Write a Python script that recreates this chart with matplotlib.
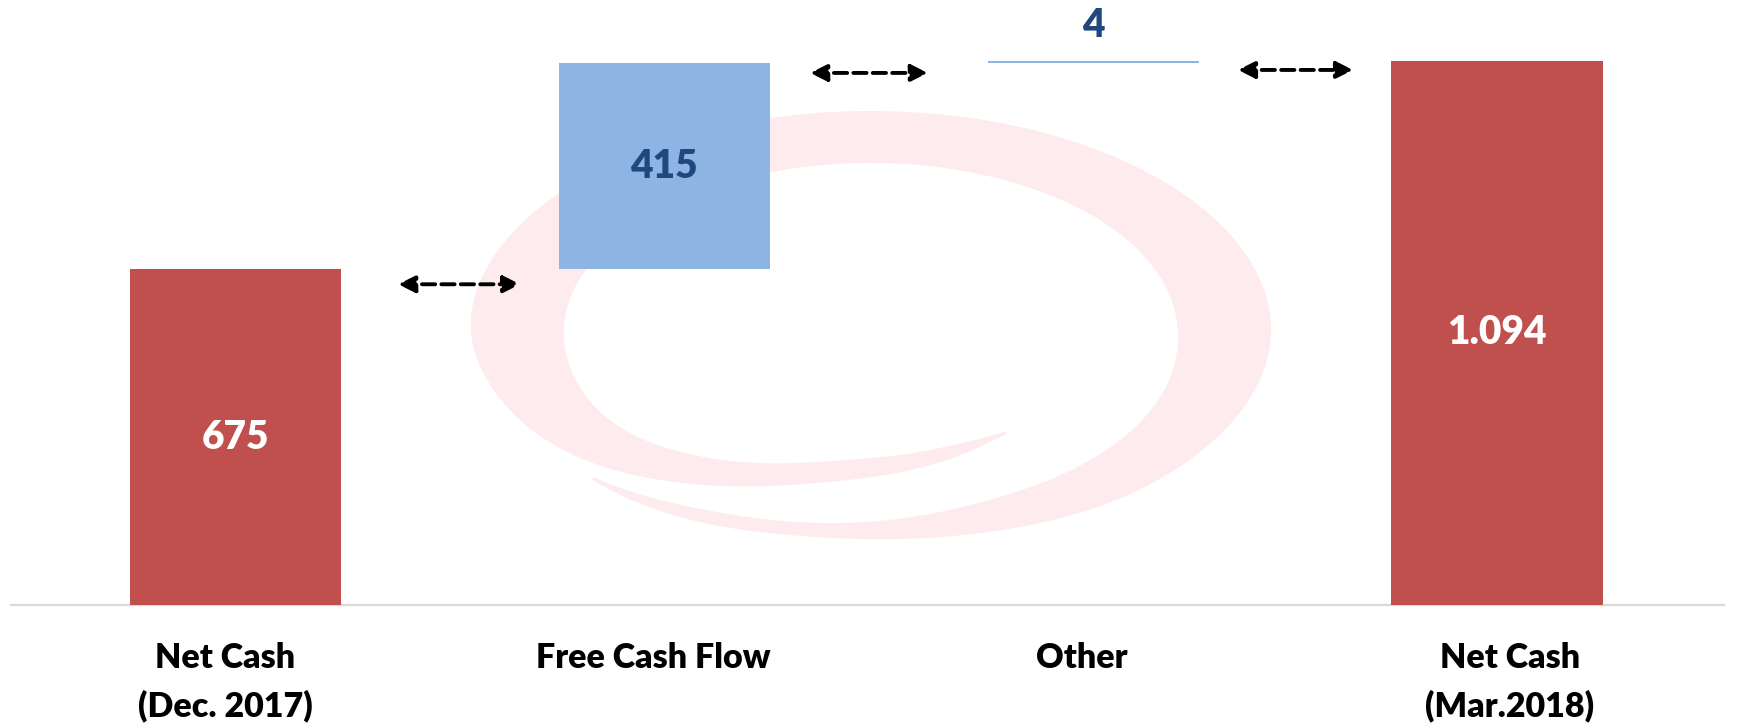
import numpy as np
import matplotlib
matplotlib.use('Agg')
import matplotlib.pyplot as plt
from matplotlib.patches import Polygon

plt.rcParams['font.family'] = ['Lato', 'DejaVu Sans']
plt.rcParams['font.weight'] = 'heavy'

# donnees du pont net cash
categories = ['Net Cash\n(Dec. 2017)', 'Free Cash Flow', 'Other', 'Net Cash\n(Mar.2018)']
valeurs = [675, 415, 4, 1094]
etiquettes = ['675', '415', '4', '1.094']
types = ['total', 'delta', 'delta', 'total']

rouge = '#c0504d'
bleu = '#8eb4e3'
bleu_fonce = '#1f497d'
rose = '#fdebed'

W, H = 1746, 724
fig = plt.figure(figsize=(W/100, H/100), dpi=100)
ax = fig.add_axes([11/W, 1-605/H, (1724-11)/W, 605/H])
ax.patch.set_alpha(0)

# logo en filigrane (spirale rose), en pixels de la figure
cx, cy, a0, b0 = 870.5, 333, 354, 196
th_k = [0.92, 1.17, 1.70, 1.94, 2.24, 2.54, 3.14, 4.71, 6.28, 7.29, 7.47, 7.94, 8.13, 8.41, 8.67]
s_k = [0.634, 0.64, 0.70, 0.773, 0.88, 0.965, 1.0, 1.0, 1.0, 1.0, 0.99, 1.01, 1.025, 1.056, 1.085]
w_k = [0.0, 0.06, 0.11, 0.12, 0.16, 0.20, 0.267, 0.265, 0.267, 0.19, 0.16, 0.07, 0.065, 0.07, 0.0]
th = np.linspace(th_k[0], th_k[-1], 800)
s = np.interp(th, th_k, s_k)
w = np.interp(th, th_k, w_k)
# lissage (moyenne glissante) pour eviter les cassures
k = 41
noyau = np.ones(k)/k
s = np.convolve(np.pad(s, k//2, mode='edge'), noyau, mode='valid')
w = np.convolve(np.pad(w, k//2, mode='edge'), noyau, mode='valid')
w[0] = w[-1] = 0
r = np.concatenate([s + w/2, (s - w/2)[::-1]])
tt = np.concatenate([th, th[::-1]])
px = cx + a0*r*np.cos(tt)
py = cy + b0*r*np.sin(tt)
pts = np.column_stack([px/W, 1 - py/H])
ax.add_patch(Polygon(pts, closed=True, facecolor=rose, edgecolor='none',
                     transform=fig.transFigure, zorder=0, clip_on=False))

# barres en cascade
x = np.arange(len(valeurs)) + np.array([0.025, 0.025, 0.027, -0.03])
bas = []
cumul = 0
for v, t in zip(valeurs, types):
    if t == 'total':
        bas.append(0)
        cumul = v
    else:
        bas.append(cumul)
        cumul += v
couleurs = [rouge if t == 'total' else bleu for t in types]
ax.bar(x, valeurs, bottom=bas, width=0.493, color=couleurs, zorder=2)

ymax = 605/544*valeurs[3]
ax.set_xlim(-0.5, 3.5)
ax.set_ylim(0, ymax)

# etiquettes de valeur
for i in range(len(valeurs)):
    if types[i] == 'total':
        ax.text(x[i], bas[i] + valeurs[i]/2, etiquettes[i], ha='center', va='center',
                color='white', fontsize=28, zorder=3)
    elif valeurs[i] > 50:
        ax.text(x[i], bas[i] + valeurs[i]/2, etiquettes[i], ha='center', va='center',
                color=bleu_fonce, fontsize=28, zorder=3)
    else:
        ax.annotate(etiquettes[i], (x[i], bas[i] + valeurs[i]), xytext=(0, 25.5),
                    textcoords='offset points', ha='center', va='center',
                    color=bleu_fonce, fontsize=28, zorder=3)

# fleches pointillees entre les barres
hauts = [b + v for b, v in zip(bas, valeurs)]
decal = [30, 20, 14]
fl_x = [(0.404, 0.689), (1.366, 1.641), (2.365, 2.634)]
for i in range(3):
    niveau = min(hauts[i], hauts[i+1]) if i == 0 else hauts[i+1] - 4
    yv = niveau - decal[i]
    ax.annotate('', xy=(fl_x[i][1], yv), xytext=(fl_x[i][0], yv),
                arrowprops=dict(arrowstyle='<|-|>,head_length=1.0,head_width=0.5',
                                color='black', lw=2.8, ls=(0, (3.4, 1.6)),
                                shrinkA=0, shrinkB=0), zorder=3)

ax.set_xticks(np.arange(len(categories)))
ax.set_xticklabels(categories, fontsize=24.5, linespacing=1.55)
ax.tick_params(axis='x', length=0, pad=27)
ax.set_yticks([])
for sp in ['top', 'left', 'right']:
    ax.spines[sp].set_visible(False)
ax.spines['bottom'].set_color('#d9d9d9')
ax.spines['bottom'].set_linewidth(1.6)
ax.spines['bottom'].set_zorder(1)

plt.savefig('out.png', dpi=100)
